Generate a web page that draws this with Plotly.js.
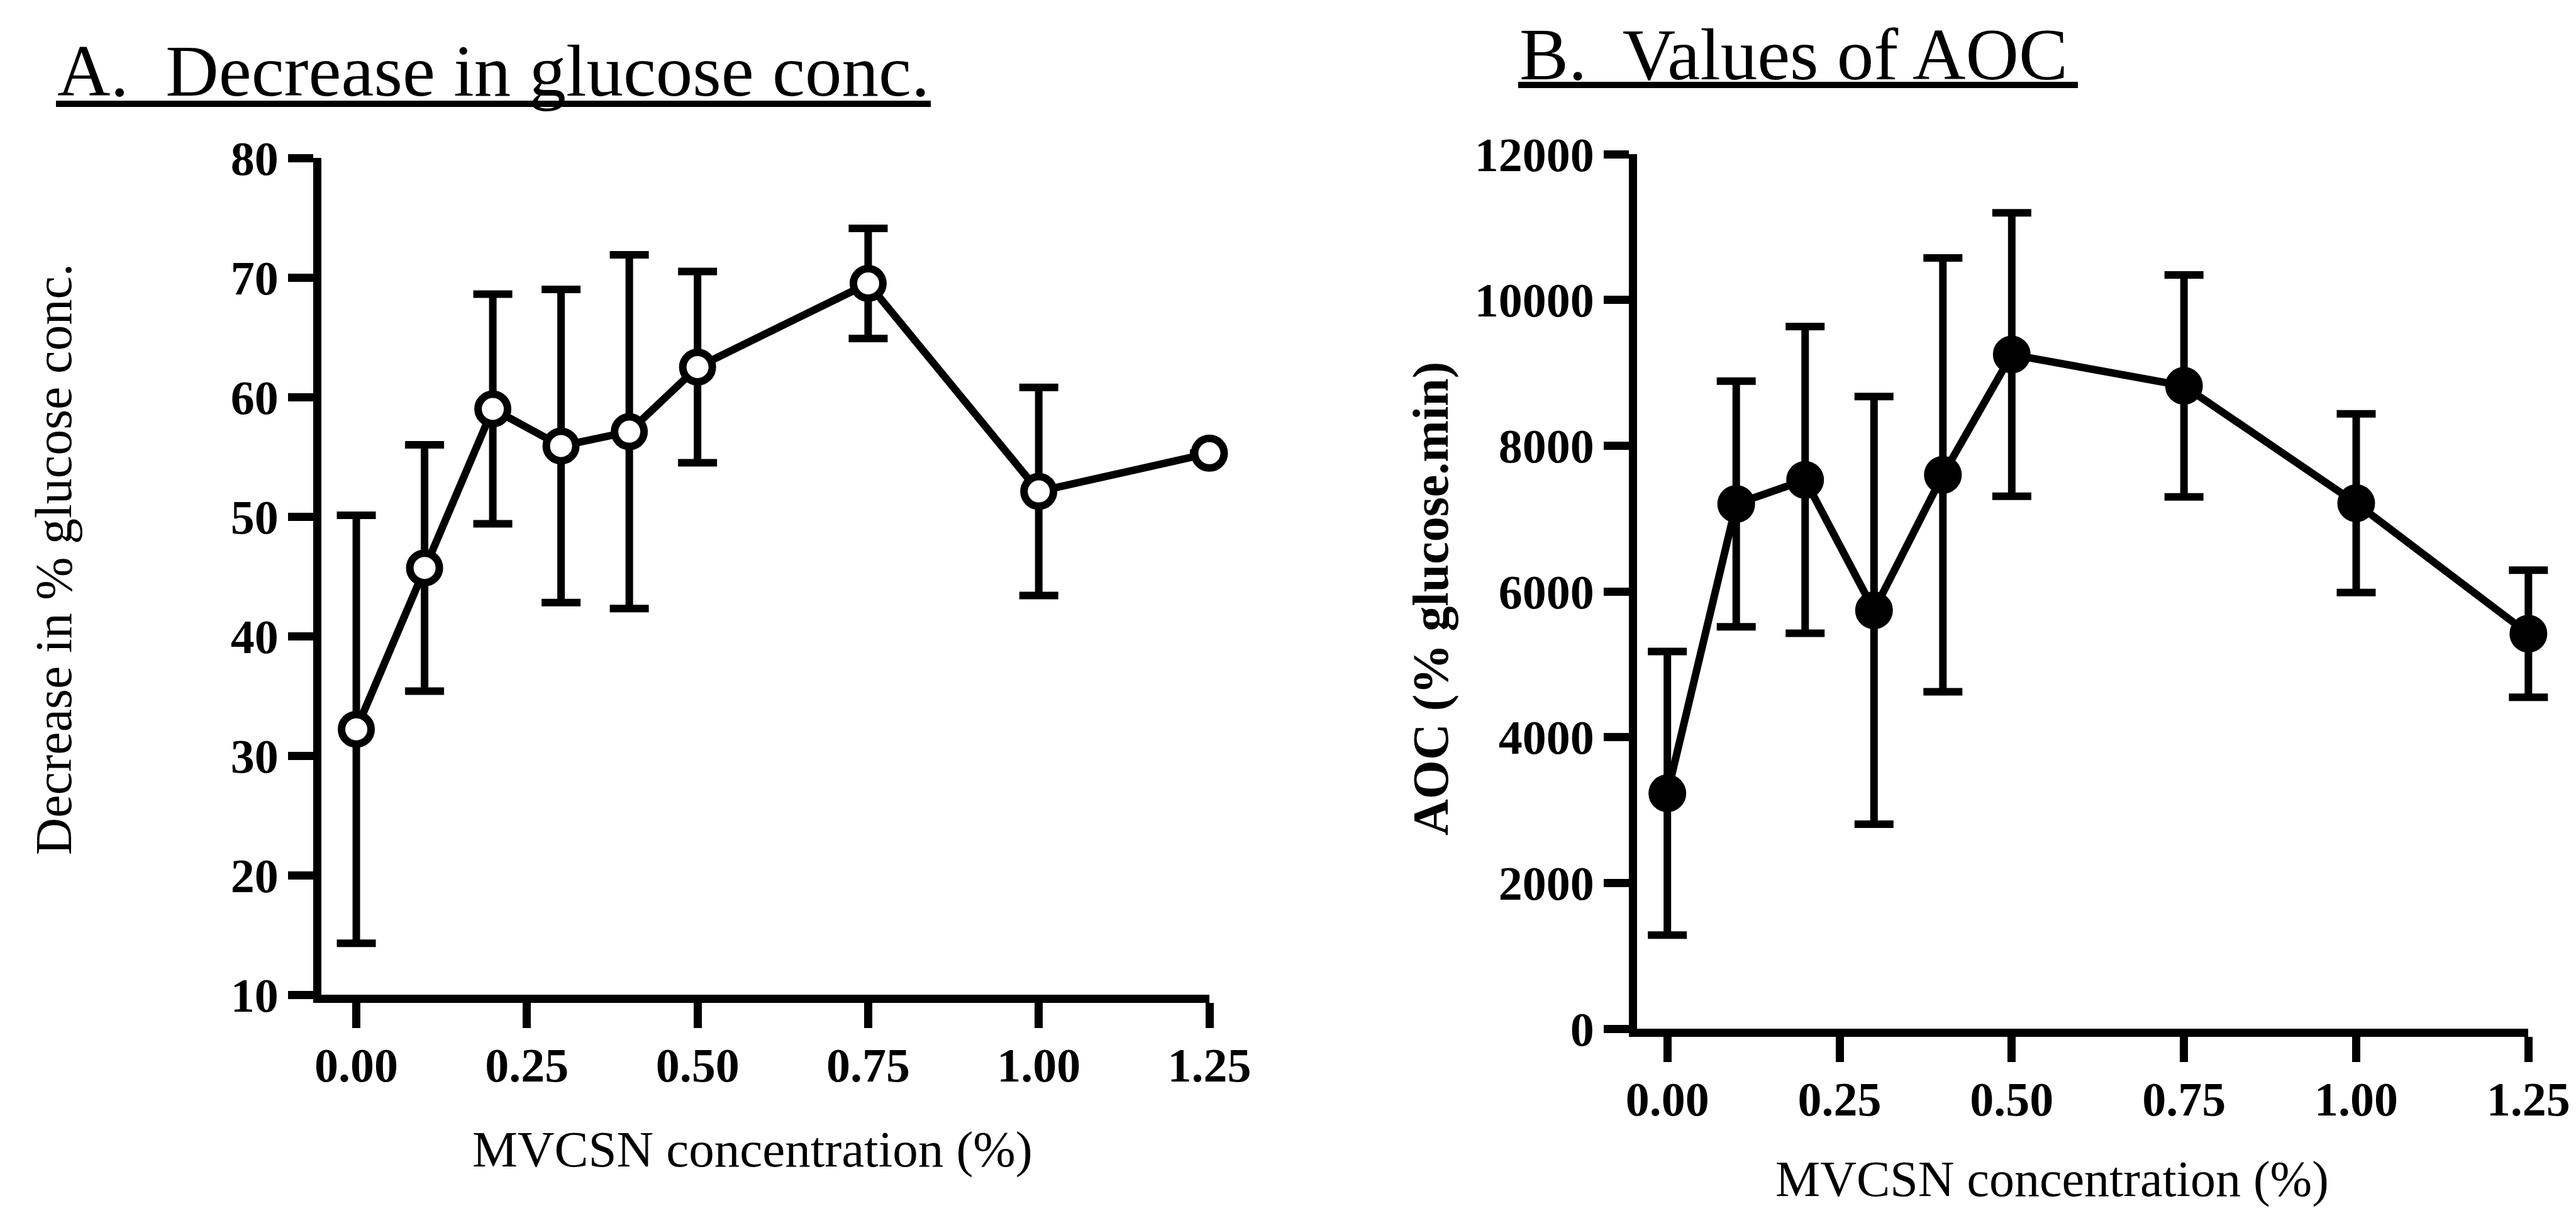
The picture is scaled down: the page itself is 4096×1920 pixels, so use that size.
<!DOCTYPE html>
<html>
<head>
<meta charset="utf-8">
<script src="https://cdn.plot.ly/plotly-3.0.1.min.js"></script>
<style>
  html, body { margin: 0; padding: 0; background: #ffffff; }
  #chart { width: 4096px; height: 1920px; }
</style>
</head>
<body>
<div id="chart"></div>
<script>
// MVCSN concentration (%) for each test group
const concentration = [0, 0.1, 0.2, 0.3, 0.4, 0.5, 0.75, 1.0, 1.25];

// Panel A: decrease in % glucose concentration (mean and SD)
const glucoseDecrease = [32.2, 45.7, 59.0, 55.9, 57.1, 62.5, 69.5, 52.1, 55.3];
const glucoseDecreaseSD = [17.9, 10.3, 9.6, 13.1, 14.8, 8.0, 4.6, 8.7, null];

// Panel B: area over the curve, % glucose.min (mean and SD)
const aocValues = [3230, 7200, 7530, 5740, 7600, 9250, 8820, 7210, 5420];
const aocSD = [1945, 1686, 2104, 2934, 2976, 1945, 1522, 1226, 872];

// Tick positions
const xTickVals = [0, 0.25, 0.5, 0.75, 1.0, 1.25];
const glucoseTicks = [10, 20, 30, 40, 50, 60, 70, 80];
const aocTicks = [0, 2000, 4000, 6000, 8000, 10000, 12000];

const SERIF = '"Liberation Serif", "Times New Roman", Times, serif';
const INK = '#000000';

const tickFont = { family: SERIF, size: 76, color: INK, weight: 'bold' };

function axisStyle(extra) {
  return Object.assign({
    showline: true, linecolor: INK, linewidth: 13,
    ticks: 'outside', ticklen: 40, tickwidth: 13, tickcolor: INK,
    showgrid: false, zeroline: false, tickfont: tickFont,
    fixedrange: true, automargin: false
  }, extra);
}

const errStyle = { type: 'data', visible: true, color: INK, thickness: 12, width: 31 };

const traces = [
  {
    x: concentration, y: glucoseDecrease,
    error_y: Object.assign({ array: glucoseDecreaseSD }, errStyle),
    type: 'scatter', mode: 'lines+markers',
    line: { color: INK, width: 12 },
    marker: { symbol: 'circle', size: 47, color: '#ffffff', line: { color: INK, width: 12 } },
    cliponaxis: false, xaxis: 'x', yaxis: 'y', hoverinfo: 'skip'
  },
  {
    x: concentration, y: aocValues,
    error_y: Object.assign({ array: aocSD }, errStyle),
    type: 'scatter', mode: 'lines+markers',
    line: { color: INK, width: 12 },
    marker: { symbol: 'circle', size: 58, color: INK, line: { color: INK, width: 2 } },
    cliponaxis: false, xaxis: 'x2', yaxis: 'y2', hoverinfo: 'skip'
  },
  // Empty trace that registers the visible concentration axis of panel B
  {
    x: [], y: [], type: 'scatter', mode: 'markers',
    xaxis: 'x3', yaxis: 'y2', hoverinfo: 'skip', showlegend: false
  }
];

function label(text, x, y, size, opts) {
  return Object.assign({
    text: text, xref: 'paper', yref: 'paper', x: x, y: y,
    showarrow: false, xanchor: 'center', yanchor: 'middle',
    font: { family: SERIF, size: size, color: INK }
  }, opts || {});
}

function underline(x0, x1, y) {
  return {
    type: 'line', xref: 'paper', yref: 'paper',
    x0: x0, x1: x1, y0: y, y1: y,
    line: { color: INK, width: 10 }
  };
}

const W = 4096, H = 1920;
const px = v => v / W;
const py = v => 1 - v / H;

// Panel B: the data axis runs a little past 1.25 so the last error-bar cap is
// not clipped; a second axis with the same scale carries the visible line and ticks.
const B_LEFT = 2603, B_PX_PER_UNIT = 1095.3, B_XMIN = -0.044;
const B_XMAX_AXIS = 1.25, B_XMAX_DATA = 1.30;
const bEnd = xmax => B_LEFT + (xmax - B_XMIN) * B_PX_PER_UNIT;

const layout = {
  width: W, height: H,
  margin: { l: 0, r: 0, t: 0, b: 0 },
  paper_bgcolor: '#ffffff', plot_bgcolor: 'rgba(0,0,0,0)',
  showlegend: false,
  xaxis: axisStyle({
    domain: [px(511), px(1923)], range: [-0.0512, 1.25],
    tickvals: xTickVals, tickformat: '.2f', anchor: 'y', ticklabelstandoff: -6
  }),
  yaxis: axisStyle({
    domain: [py(1581), py(251)], range: [10, 80],
    tickvals: glucoseTicks, anchor: 'x'
  }),
  xaxis2: {
    domain: [px(B_LEFT), px(bEnd(B_XMAX_DATA))], range: [B_XMIN, B_XMAX_DATA],
    visible: false, anchor: 'y2', fixedrange: true
  },
  xaxis3: axisStyle({
    domain: [px(B_LEFT), px(bEnd(B_XMAX_AXIS))], range: [B_XMIN, B_XMAX_AXIS],
    tickvals: xTickVals, tickformat: '.2f', anchor: 'y2', ticklabelstandoff: -6
  }),
  yaxis2: axisStyle({
    domain: [py(1635), py(245)], range: [0, 12000],
    tickvals: aocTicks, tickformat: 'd', anchor: 'x2'
  }),
  shapes: [
    underline(px(89), px(1480), py(165)),
    underline(px(2414), px(3304), py(135))
  ],
  annotations: [
    label('A.  Decrease in glucose conc.', px(89), py(112), 117, { xanchor: 'left' }),
    label('B.  Values of AOC', px(2414), py(86), 117, { xanchor: 'left' }),
    label('Decrease in % glucose conc.', px(85), py(889), 82, { textangle: -90 }),
    label('<b>AOC (% glucose.min)</b>', px(2275), py(952), 80, { textangle: -90 }),
    label('MVCSN concentration (%)', px(1196), py(1827), 81),
    label('MVCSN concentration (%)', px(3263), py(1874), 80)
  ]
};

Plotly.newPlot('chart', traces, layout, { staticPlot: true, displayModeBar: false });
</script>
</body>
</html>
